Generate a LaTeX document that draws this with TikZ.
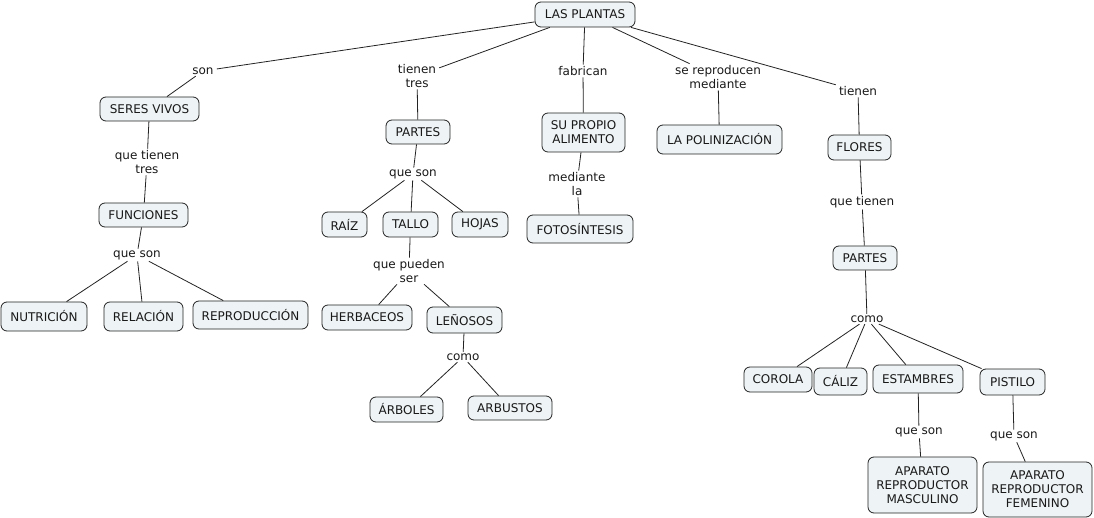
\documentclass[tikz,border=0pt]{standalone}
\usepackage{fontspec}
\setmainfont{DejaVu Sans}
\definecolor{cfill}{RGB}{238,243,245}
\definecolor{cline}{RGB}{35,35,35}
\definecolor{ctext}{RGB}{25,25,25}
\begin{document}
\begin{tikzpicture}[x=1pt,y=-1pt,
  concept/.style 2 args={draw=cline, fill=cfill, rounded corners=6pt, line width=0.8pt,
    minimum width=#1, minimum height=#2, inner sep=1pt, align=center,
    font=\fontsize{12pt}{14pt}\selectfont, text=ctext},
  link/.style={inner xsep=3pt, inner ysep=1.5pt, align=center,
    font=\fontsize{12pt}{14pt}\selectfont, text=ctext},
  conn/.style={draw=cline, line width=0.8pt}]
\useasboundingbox[fill=white] (0,0) rectangle (1094,518);

% concepts
\node[concept={100pt}{25pt}] (plantas) at (585,14.5) {LAS PLANTAS};
\node[concept={99pt}{24pt}] (seres) at (149.5,109) {SERES VIVOS};
\node[concept={89pt}{24pt}] (funciones) at (143.5,215) {FUNCIONES};
\node[concept={86pt}{29pt}] (nutricion) at (44,316.5) {NUTRICIÓN};
\node[concept={79pt}{29pt}] (relacion) at (143.5,316.5) {RELACIÓN};
\node[concept={115pt}{28pt}] (reproduccion) at (250.5,315) {REPRODUCCIÓN};
\node[concept={64pt}{24pt}] (partesM) at (418,132) {PARTES};
\node[concept={45pt}{25pt}] (raiz) at (344.5,224.5) {RAÍZ};
\node[concept={55pt}{25pt}] (tallo) at (410.5,224.5) {TALLO};
\node[concept={56pt}{25pt}] (hojas) at (480,224.5) {HOJAS};
\node[concept={90pt}{25pt}] (herbaceos) at (367,317.5) {HERBACEOS};
\node[concept={75pt}{26pt}] (lenosos) at (464.5,320) {LEÑOSOS};
\node[concept={73pt}{25pt}] (arboles) at (406.5,409.5) {ÁRBOLES};
\node[concept={84pt}{24pt}] (arbustos) at (510,408) {ARBUSTOS};
\node[concept={83pt}{39pt}] (alimento) at (583.5,132.5) {SU PROPIO\\ALIMENTO};
\node[concept={106pt}{28pt}] (foto) at (580,229) {FOTOSÍNTESIS};
\node[concept={125pt}{29pt}] (polin) at (719.5,139.5) {LA POLINIZACIÓN};
\node[concept={63pt}{25pt}] (flores) at (859.5,147.5) {FLORES};
\node[concept={64pt}{24pt}] (partesR) at (865,258) {PARTES};
\node[concept={68pt}{25pt}] (corola) at (778,379.5) {COROLA};
\node[concept={53pt}{27pt}] (caliz) at (840.5,381.5) {CÁLIZ};
\node[concept={90pt}{28pt}] (estambres) at (918,379) {ESTAMBRES};
\node[concept={65pt}{26pt}] (pistilo) at (1012.5,382) {PISTILO};
\node[concept={109pt}{56pt}] (masc) at (922.5,485) {APARATO\\REPRODUCTOR\\MASCULINO};
\node[concept={109pt}{55pt}] (fem) at (1037.5,489.5) {APARATO\\REPRODUCTOR\\FEMENINO};

% linking phrases
\node[link] (son) at (203,71) {son};
\node[link] (qtt) at (147,162) {que tienen\\tres};
\node[link] (qsL) at (137,255) {que son};
\node[link] (tt) at (417,76) {tienen\\tres};
\node[link] (qsM) at (413,174) {que son};
\node[link] (qps) at (409,271) {que pueden\\ser};
\node[link] (comoM) at (463,357) {como};
\node[link] (fab) at (583,71) {fabrican};
\node[link] (medla) at (577,184) {mediante\\la};
\node[link] (srm) at (718,77) {se reproducen\\mediante};
\node[link] (tienR) at (858,91) {tienen};
\node[link] (qtR) at (862,202) {que tienen};
\node[link] (comoR) at (867,319) {como};
\node[link] (qsE) at (919,432) {que son};
\node[link] (qsP) at (1014,436) {que son};

% connectors
\draw[conn] (plantas) -- (son);
\draw[conn] (son) -- (seres);
\draw[conn] (plantas) -- (tt);
\draw[conn] (tt) -- (partesM);
\draw[conn] (plantas) -- (fab);
\draw[conn] (fab) -- (alimento);
\draw[conn] (plantas) -- (srm);
\draw[conn] (srm) -- (polin);
\draw[conn] (plantas) -- (tienR);
\draw[conn] (tienR) -- (flores);
\draw[conn] (seres) -- (qtt);
\draw[conn] (qtt) -- (funciones);
\draw[conn] (funciones) -- (qsL);
\draw[conn] (qsL) -- (nutricion);
\draw[conn] (qsL) -- (relacion);
\draw[conn] (qsL) -- (reproduccion);
\draw[conn] (partesM) -- (qsM);
\draw[conn] (qsM) -- (raiz);
\draw[conn] (qsM) -- (tallo);
\draw[conn] (qsM) -- (hojas);
\draw[conn] (tallo) -- (qps);
\draw[conn] (qps) -- (herbaceos);
\draw[conn] (qps) -- (lenosos);
\draw[conn] (lenosos) -- (comoM);
\draw[conn] (comoM) -- (arboles);
\draw[conn] (comoM) -- (arbustos);
\draw[conn] (alimento) -- (medla);
\draw[conn] (medla) -- (foto);
\draw[conn] (flores) -- (qtR);
\draw[conn] (qtR) -- (partesR);
\draw[conn] (partesR) -- (comoR);
\draw[conn] (comoR) -- (corola);
\draw[conn] (comoR) -- (caliz);
\draw[conn] (comoR) -- (estambres);
\draw[conn] (comoR) -- (pistilo);
\draw[conn] (estambres) -- (qsE);
\draw[conn] (qsE) -- (masc);
\draw[conn] (pistilo) -- (qsP);
\draw[conn] (qsP) -- (fem);
\end{tikzpicture}
\end{document}
